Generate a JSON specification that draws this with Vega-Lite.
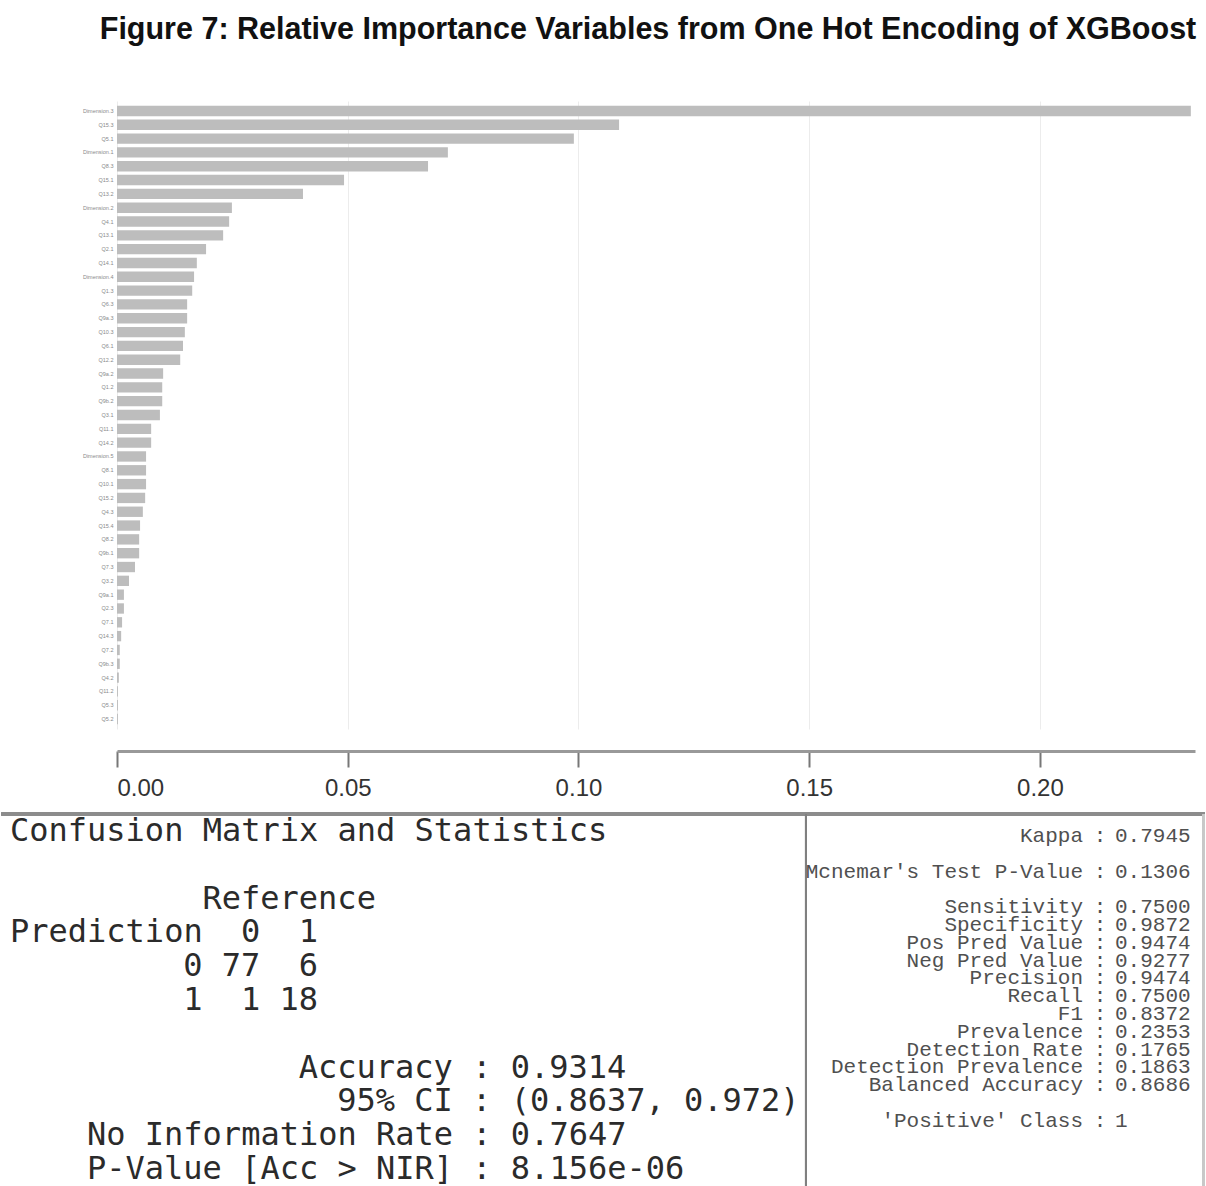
{
  "$schema": "https://vega.github.io/schema/vega-lite/v6.json",
  "background": "white",
  "padding": {"top": 14, "left": 0, "right": 0, "bottom": 0},
  "spacing": 12,
  "config": {"view": {"stroke": null}},
  "datasets": {
    "importance": [
      {"variable": "Dimension.3", "importance": 0.2327},
      {"variable": "Q15.3", "importance": 0.1088},
      {"variable": "Q5.1", "importance": 0.0990},
      {"variable": "Dimension.1", "importance": 0.0717},
      {"variable": "Q8.3", "importance": 0.0674},
      {"variable": "Q15.1", "importance": 0.0492},
      {"variable": "Q13.2", "importance": 0.0403},
      {"variable": "Dimension.2", "importance": 0.0249},
      {"variable": "Q4.1", "importance": 0.0243},
      {"variable": "Q13.1", "importance": 0.0230},
      {"variable": "Q2.1", "importance": 0.0193},
      {"variable": "Q14.1", "importance": 0.0173},
      {"variable": "Dimension.4", "importance": 0.0167},
      {"variable": "Q1.3", "importance": 0.0163},
      {"variable": "Q6.3", "importance": 0.0152},
      {"variable": "Q9a.3", "importance": 0.0152},
      {"variable": "Q10.3", "importance": 0.0147},
      {"variable": "Q6.1", "importance": 0.0143},
      {"variable": "Q12.2", "importance": 0.0137},
      {"variable": "Q9a.2", "importance": 0.0100},
      {"variable": "Q1.2", "importance": 0.0098},
      {"variable": "Q9b.2", "importance": 0.0098},
      {"variable": "Q3.1", "importance": 0.0093},
      {"variable": "Q11.1", "importance": 0.0074},
      {"variable": "Q14.2", "importance": 0.0074},
      {"variable": "Dimension.5", "importance": 0.0063},
      {"variable": "Q8.1", "importance": 0.0063},
      {"variable": "Q10.1", "importance": 0.0063},
      {"variable": "Q15.2", "importance": 0.0061},
      {"variable": "Q4.3", "importance": 0.0056},
      {"variable": "Q15.4", "importance": 0.0050},
      {"variable": "Q8.2", "importance": 0.0048},
      {"variable": "Q9b.1", "importance": 0.0048},
      {"variable": "Q7.3", "importance": 0.0039},
      {"variable": "Q3.2", "importance": 0.0026},
      {"variable": "Q9a.1", "importance": 0.0015},
      {"variable": "Q2.3", "importance": 0.0015},
      {"variable": "Q7.1", "importance": 0.0011},
      {"variable": "Q14.3", "importance": 0.0009},
      {"variable": "Q7.2", "importance": 0.0006},
      {"variable": "Q9b.3", "importance": 0.0006},
      {"variable": "Q4.2", "importance": 0.0004},
      {"variable": "Q11.2", "importance": 0.0002},
      {"variable": "Q5.3", "importance": 0.0002},
      {"variable": "Q5.2", "importance": 0.0002}
    ],
    "matrix": [
      {"line": 0, "col": 0, "text": "Confusion Matrix and Statistics"},
      {"line": 2, "col": 10, "text": "Reference"},
      {"line": 3, "col": 0, "text": "Prediction"},
      {"line": 3, "col": 12, "text": "0"},
      {"line": 3, "col": 15, "text": "1"},
      {"line": 4, "col": 9, "text": "0"},
      {"line": 4, "col": 11, "text": "77"},
      {"line": 4, "col": 15, "text": "6"},
      {"line": 5, "col": 9, "text": "1"},
      {"line": 5, "col": 12, "text": "1"},
      {"line": 5, "col": 14, "text": "18"},
      {"line": 7, "col": 15, "text": "Accuracy : 0.9314"},
      {"line": 8, "col": 17, "text": "95% CI : (0.8637, 0.972)"},
      {"line": 9, "col": 4, "text": "No Information Rate : 0.7647"},
      {"line": 10, "col": 4, "text": "P-Value [Acc > NIR] : 8.156e-06"}
    ],
    "stats": [
      {"line": 0, "label": "Kappa", "value": "0.7945"},
      {"line": 2, "label": "Mcnemar's Test P-Value", "value": "0.1306"},
      {"line": 4, "label": "Sensitivity", "value": "0.7500"},
      {"line": 5, "label": "Specificity", "value": "0.9872"},
      {"line": 6, "label": "Pos Pred Value", "value": "0.9474"},
      {"line": 7, "label": "Neg Pred Value", "value": "0.9277"},
      {"line": 8, "label": "Precision", "value": "0.9474"},
      {"line": 9, "label": "Recall", "value": "0.7500"},
      {"line": 10, "label": "F1", "value": "0.8372"},
      {"line": 11, "label": "Prevalence", "value": "0.2353"},
      {"line": 12, "label": "Detection Rate", "value": "0.1765"},
      {"line": 13, "label": "Detection Prevalence", "value": "0.1863"},
      {"line": 14, "label": "Balanced Accuracy", "value": "0.8686"},
      {"line": 16, "label": "'Positive' Class", "value": "1"}
    ]
  },
  "vconcat": [
    {
      "width": 1078,
      "height": 628,
      "title": {
        "text": "Figure 7: Relative Importance Variables from One Hot Encoding of XGBoost",
        "font": "Liberation Sans",
        "fontSize": 30.5,
        "fontWeight": "bold",
        "color": "#111111",
        "anchor": "middle",
        "frame": "group",
        "dx": -8,
        "offset": 56
      },
      "data": {"name": "importance"},
      "mark": {"type": "bar", "color": "#bdbdbd"},
      "encoding": {
        "y": {
          "field": "variable",
          "type": "nominal",
          "sort": null,
          "scale": {"paddingInner": 0.25, "paddingOuter": 0.345},
          "axis": {
            "title": null,
            "ticks": false,
            "domain": false,
            "grid": false,
            "labelFont": "Liberation Sans",
            "labelFontSize": 5.5,
            "labelColor": "#8a8a8a",
            "labelPadding": 4,
            "minExtent": 117,
            "maxExtent": 117
          }
        },
        "x": {
          "field": "importance",
          "type": "quantitative",
          "scale": {"domain": [0, 0.2336], "nice": false, "zero": true},
          "axis": {
            "title": null,
            "values": [0, 0.05, 0.1, 0.15, 0.2],
            "format": ".2f",
            "offset": 22,
            "tickSize": 16,
            "tickWidth": 2,
            "tickColor": "#777777",
            "domainColor": "#999999",
            "domainWidth": 3,
            "labelFont": "Liberation Sans",
            "labelFontSize": 24,
            "labelPadding": 9,
            "labelColor": "#333333",
            "grid": true,
            "gridColor": "#ececec",
            "gridWidth": 1
          }
        }
      }
    },
    {
      "width": 1089,
      "height": 374,
      "resolve": {"scale": {"x": "independent", "y": "independent"}},
      "layer": [
        {
          "data": {"name": "matrix"},
          "layer": [
            {
              "mark": {"type": "text", "align": "left", "baseline": "middle", "font": "DejaVu Sans Mono", "fontSize": 32, "color": "#2b2b2b"},
              "encoding": {
                "x": {"field": "col", "type": "quantitative", "scale": {"domain": [5.558, 62.13], "nice": false, "zero": false}, "axis": null},
                "y": {"field": "line", "type": "quantitative", "scale": {"domain": [-0.5, 10.56], "nice": false, "zero": false, "reverse": true}, "axis": null},
                "text": {"field": "text"}
              }
            },
            {
              "mark": {"type": "rule", "color": "#8c8c8c", "strokeWidth": 3},
              "encoding": {
                "x": {"datum": -0.436, "type": "quantitative"},
                "x2": {"datum": 62.05},
                "y": {"datum": -0.5, "type": "quantitative"}
              }
            },
            {
              "mark": {"type": "rule", "color": "#808080", "strokeWidth": 2},
              "encoding": {"x": {"datum": 41.35, "type": "quantitative"}}
            },
            {
              "mark": {"type": "rule", "color": "#c8c8c8", "strokeWidth": 2},
              "encoding": {"x": {"datum": 62.0, "type": "quantitative"}}
            }
          ]
        },
        {
          "data": {"name": "stats"},
          "encoding": {
            "y": {"field": "line", "type": "quantitative", "scale": {"domain": [-1.236, 19.78], "nice": false, "zero": false, "reverse": true}, "axis": null}
          },
          "layer": [
            {
              "mark": {"type": "text", "align": "right", "baseline": "middle", "font": "Liberation Mono", "fontSize": 21, "color": "#505050"},
              "encoding": {
                "x": {"datum": 21.46, "type": "quantitative", "scale": {"domain": [-52.85, 30.92], "nice": false, "zero": false}, "axis": null},
                "text": {"field": "label"}
              }
            },
            {
              "mark": {"type": "text", "align": "center", "baseline": "middle", "font": "Liberation Mono", "fontSize": 21, "color": "#505050"},
              "encoding": {
                "x": {"datum": 22.77, "type": "quantitative"},
                "text": {"value": ":"}
              }
            },
            {
              "mark": {"type": "text", "align": "left", "baseline": "middle", "font": "Liberation Mono", "fontSize": 21, "color": "#505050"},
              "encoding": {
                "x": {"datum": 23.92, "type": "quantitative"},
                "text": {"field": "value"}
              }
            }
          ]
        }
      ]
    }
  ]
}
